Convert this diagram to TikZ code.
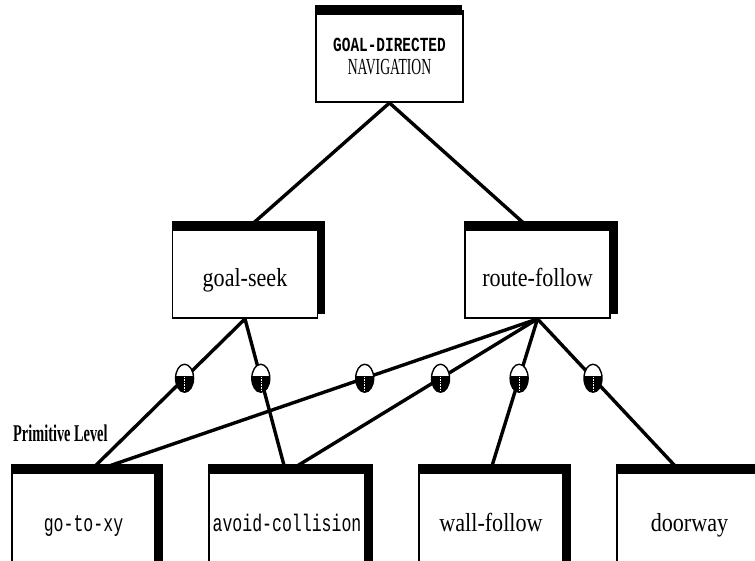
\documentclass[tikz,border=0pt]{standalone}
\usepackage{fontspec}
\usepackage{graphicx}
\setmainfont{Liberation Serif}
\newfontfamily\boxserif[FakeStretch=0.85]{Liberation Serif}
\newfontfamily\boxmono[FakeStretch=0.83]{Liberation Mono}
\newfontfamily\lvlserif[FakeStretch=0.72]{Liberation Serif}
\usetikzlibrary{shapes.geometric, calc}
\tikzset{
  frame/.style={rectangle, draw, line width=1.8pt, fill=white,
    inner sep=0pt, minimum width=145pt},
  box/.style={frame, minimum height=91pt,
    font=\boxserif\fontsize{26}{30}\selectfont,
    text height=29pt, text depth=2pt},
  boxB/.style={box, minimum height=130pt, text height=12pt, text depth=20pt},
  boxBT/.style={boxB, font=\boxmono\fontsize{24}{26}\selectfont},
  lnk/.style={line width=3.4pt},
  barT/.style={line width=10pt},
  barR/.style={line width=7pt},
  valve/.style={ellipse, draw, line width=1.4pt, fill=white, inner sep=0pt,
    minimum width=18pt, minimum height=28pt,
    path picture={
      \fill[black] ([yshift=2pt]path picture bounding box.west)
        rectangle (path picture bounding box.south east);
      \draw[white, densely dotted, line width=0.6pt]
        ([yshift=1pt]path picture bounding box.center)
        -- (path picture bounding box.south);}},
}

\begin{document}
\begin{tikzpicture}[x=1pt, y=-1pt]
  \clip (0,0) rectangle (755,560);
  \fill[white] (0,0) rectangle (755,560);

  % -- top level --
  \node[frame, minimum width=147pt, minimum height=91pt, align=center,
        font=\fontsize{20}{23}\selectfont] (nav) at (389.5,56.5)
       {\scalebox{0.87}[1]{\boxmono\bfseries GOAL-DIRECTED}\\
        \scalebox{0.7}[1]{\boxserif\fontsize{23}{23}\selectfont NAVIGATION}};

  % -- behaviour level --
  \node[box] (seek)  at (245,272.5)   {goal-seek};
  \node[box] (route) at (537.5,272.5) {route-follow};

  % -- primitive level --
  \node[boxBT, minimum width=143pt] (goto)  at (83.5,535)  {\scalebox{0.83}[1]{go-to-xy}};
  \node[boxBT, minimum width=156pt] (avoid) at (287,535)   {\scalebox{0.83}[1]{avoid-collision}};
  \node[boxB,  minimum width=144pt] (wall)  at (491,535)   {wall-follow};
  \node[boxB]                       (door)  at (689.5,535) {doorway};
  \node[font=\lvlserif\bfseries\fontsize{24}{26}\selectfont, anchor=west,
        inner sep=0pt] (lvl) at (13,433) {\scalebox{0.83}[1]{Primitive Level}};

  % Connecting lines
  \draw[lnk] (nav.south) -- ([xshift=5pt]seek.north);
  \draw[lnk] (nav.south) -- ([xshift=-10.5pt]route.north);

  \draw[lnk] (seek.south) -- node[valve, pos=0.395] (v1) {} ([xshift=8.5pt]goto.north);
  \draw[lnk] (seek.south) -- node[valve, pos=0.395] (v2) {} ([xshift=-2pt]avoid.north);
  \draw[lnk] (route.south) -- node[valve, pos=0.395] (v3) {} ([xshift=16.5pt]goto.north);
  \draw[lnk] (route.south) -- node[valve, pos=0.395] (v4) {} ([xshift=5pt]avoid.north);
  \draw[lnk] (route.south) -- node[valve, pos=0.395] (v5) {} (wall.north);
  \draw[lnk] (route.south) -- node[valve, pos=0.395] (v6) {} ([xshift=-11.5pt]door.north);

  % Heavy top and side bars
  \draw[barT] (nav.north west) -- ([xshift=-2pt]nav.north east);
  \foreach \n in {seek,route,goto,avoid,wall,door} {
    \draw[barT] (\n.north west) -- ([xshift=7pt]\n.north east);
    \draw[barR] ([xshift=3.5pt]\n.north east)
      -- ([xshift=3.5pt,yshift=5pt]\n.south east);
  }
\end{tikzpicture}
\end{document}
